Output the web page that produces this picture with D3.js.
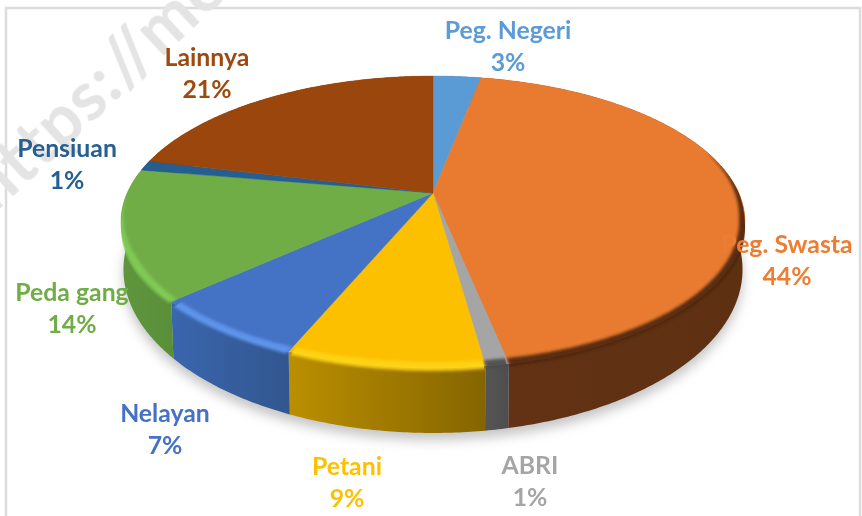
<!DOCTYPE html>
<html><head><meta charset="utf-8">
<script src="https://cdnjs.cloudflare.com/ajax/libs/d3/7.8.5/d3.min.js"></script>
<style>html,body{margin:0;padding:0;background:#fff;overflow:hidden}svg{display:block}</style>
</head><body><svg id="c" width="862" height="516"></svg>
<script>
// Data (share of each category; printed labels are rounded)
const categories = ["Peg. Negeri","Peg. Swasta","ABRI","Petani","Nelayan","Peda gang","Pensiuan","Lainnya"];
const shares     = [3, 43.8, 1, 8.5, 7, 14.4, 1.1, 21.2];
const percentLabels = ["3%","44%","1%","9%","7%","14%","1%","21%"];

// Styles
const topColors   = ["#5b9bd5","#e97b31","#a5a5a5","#fcc000","#4472c4","#70ad47","#255e91","#9a460c"];
const labelColors = ["#5b9bd5","#ed7d31","#a5a5a5","#ffc000","#4472c4","#70ad47","#255e91","#9e480e"];
const wallLeft    = ["#3f6c95","#643214","#555555","#bb8f00","#3a66ae","#5f963d","#1a4165","#6e320a"];
const wallRight   = ["#3f6c95","#5e3012","#4e4e4e","#856500","#32568f","#5a8f39","#1a4165","#6e320a"];
const rimColors   = [null,"#4a2208","#4a4a4a","#ffd51a","#5f97ee","#82cc55",null,null];

// Layout
const labelX = [508,787,530,347,165,72,67,207];
const labelY = [38.5,253,474,475,422,301,157,66];
const cx = 433, cy = 193;
const A = 305.8, B = 140.2, K = 0.1987;  // perspective disc
const svg = d3.select("#c");
const defs = svg.append("defs");

const project = t => {
  const w = 1 + K*Math.cos(t);
  return [cx + A*Math.sin(t)/w, cy - B*Math.cos(t)/w];
};
const lower = ([x,y]) => [cx + (x-cx)*0.992, y + 44 + 0.12*(y-cy)];
const line = d3.line();
const angles = (a0,a1) => {
  const n = Math.max(2, Math.ceil((a1-a0)/0.01));
  return d3.range(n+1).map(i => a0 + (a1-a0)*i/n);
};
const arcPts = (a0,a1) => angles(a0,a1).map(project);

const arcs = d3.pie().sort(null).value(d=>d)(shares);

// Filters
const blur = (id,s) => defs.append("filter").attr("id",id)
  .attr("x","-20%").attr("y","-20%").attr("width","140%").attr("height","140%")
  .append("feGaussianBlur").attr("stdDeviation",s);
blur("shadow",6); blur("rim",1.8); blur("soft",0.45); blur("wm",0.6);

// Wall gradients: left-to-right in picture space
arcs.forEach((a,i)=>{
  const xs = d3.extent(arcPts(a.startAngle,a.endAngle),p=>p[0]);
  const g = defs.append("linearGradient").attr("id","wall"+i)
    .attr("gradientUnits","userSpaceOnUse")
    .attr("x1",xs[0]).attr("x2",xs[1]).attr("y1",0).attr("y2",0);
  g.append("stop").attr("offset",0).attr("stop-color",wallLeft[i]);
  g.append("stop").attr("offset",1).attr("stop-color",wallRight[i]);
});

// Frame
svg.append("rect").attr("x",6).attr("y",8).attr("width",854).attr("height",540)
  .attr("fill","#fff").attr("stroke","#dcdcdc").attr("stroke-width",2.5);

// Watermark
svg.append("text").text("https://me")
  .attr("transform","translate(-6,214) rotate(-43)")
  .attr("font-family","Lato").attr("font-weight",700).attr("font-size",68)
  .attr("letter-spacing",1)
  .attr("fill","#e4e4e4").attr("filter","url(#wm)");

const pie = svg.append("g");

// Drop shadow
const outline = arcPts(0,2*Math.PI).map(lower).map(([x,y])=>[x,y+7]);
pie.append("path").attr("d",line(outline)+"Z").attr("fill","#c4c4c4").attr("filter","url(#shadow)");

// Walls
pie.selectAll("path.wall").data(arcs).join("path").attr("class","wall")
  .attr("d",a=>{
    const t = arcPts(a.startAngle,a.endAngle);
    return line(t.concat(t.map(lower).reverse()))+"Z";
  })
  .attr("fill",(a,i)=>`url(#wall${i})`);

// Tops
pie.selectAll("path.top").data(arcs).join("path").attr("class","top")
  .attr("d",a=>line([[cx,cy]].concat(arcPts(a.startAngle,a.endAngle)))+"Z")
  .attr("fill",(a,i)=>topColors[i])
  .attr("stroke",(a,i)=>topColors[i]).attr("stroke-width",0.4);

// Rim bevel: a tapered band on each rim, blurred and clipped to slice + upper wall
const tStart = 1.25, tEnd = 4.7;
const bevel = pie.append("g");
arcs.forEach((a,i)=>{
  if(!rimColors[i]) return;
  const start = Math.max(a.startAngle, tStart), end = Math.min(a.endAngle, tEnd);
  if(end<=start) return;
  const ts = angles(start,end);
  const band = (t,off)=>{
    const [x,y] = project(t);
    const r = Math.hypot(x-cx,y-cy);
    const taper = Math.min(1,(t-tStart)/0.5)*Math.min(1,(tEnd-t)/0.45);
    const d = off*taper;
    return [x+(cx-x)*d/r, y+(cy-y)*d/r];
  };
  const pts = ts.map(project);
  const cid = "bev"+i;
  defs.append("clipPath").attr("id",cid).append("path")
    .attr("d",line(pts.map(([x,y])=>[x,y+(y>cy?7:0)*Math.min(1,(y-cy)/40)])
      .concat(pts.map(p=>[cx+(p[0]-cx)*0.88,cy+(p[1]-cy)*0.88]).reverse()))+"Z");
  const outer = ts.map(t=>band(t,-3));
  const inner = ts.map(t=>band(t,6)).reverse();
  bevel.append("g").attr("clip-path",`url(#${cid})`)
    .append("path").attr("d",line(outer.concat(inner))+"Z")
    .attr("fill",rimColors[i]).attr("fill-opacity",0.9).attr("filter","url(#rim)");
});

// Labels
const lab = svg.append("g").attr("font-family","Lato").attr("font-weight",700)
  .attr("font-size",24.8).attr("text-anchor","middle").attr("filter","url(#soft)");
categories.forEach((c,i)=>{
  lab.append("text").attr("x",labelX[i]).attr("y",labelY[i]).attr("fill",labelColors[i]).text(c);
  lab.append("text").attr("x",labelX[i]).attr("y",labelY[i]+32).attr("fill",labelColors[i]).text(percentLabels[i]);
});
</script></body></html>
